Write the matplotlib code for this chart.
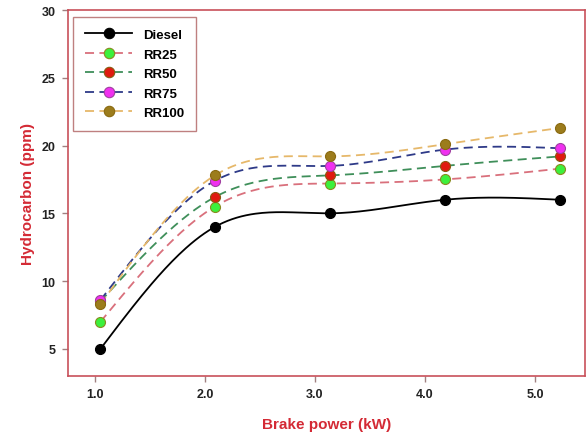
import numpy as np
import matplotlib
matplotlib.use("Agg")
import matplotlib.pyplot as plt
from matplotlib.lines import Line2D

brake_power = [1.05, 2.09, 3.14, 4.18, 5.23]
diesel = [5.0, 14.0, 15.0, 16.0, 16.0]
rr25 = [7.0, 15.5, 17.2, 17.5, 18.3]
rr50 = [8.5, 16.2, 17.8, 18.5, 19.2]
rr75 = [8.6, 17.4, 18.5, 19.7, 19.8]
rr100 = [8.3, 17.8, 19.2, 20.1, 21.3]
series_names = ["Diesel", "RR25", "RR50", "RR75", "RR100"]
x_ticks = [1.0, 2.0, 3.0, 4.0, 5.0]
y_ticks = [5, 10, 15, 20, 25, 30]


def natural_spline(x, y, n=200):
    x = np.asarray(x, float)
    y = np.asarray(y, float)
    k = len(x)
    h = np.diff(x)
    A = np.zeros((k, k))
    b = np.zeros(k)
    A[0, 0] = 1
    A[-1, -1] = 1
    for i in range(1, k - 1):
        A[i, i - 1] = h[i - 1]
        A[i, i] = 2 * (h[i - 1] + h[i])
        A[i, i + 1] = h[i]
        b[i] = 3 * ((y[i + 1] - y[i]) / h[i] - (y[i] - y[i - 1]) / h[i - 1])
    c = np.linalg.solve(A, b)
    xs = np.linspace(x[0], x[-1], n)
    ys = np.empty_like(xs)
    for j, xv in enumerate(xs):
        i = min(np.searchsorted(x, xv, side="right") - 1, k - 2)
        bi = (y[i + 1] - y[i]) / h[i] - h[i] * (2 * c[i] + c[i + 1]) / 3
        di = (c[i + 1] - c[i]) / (3 * h[i])
        dx = xv - x[i]
        ys[j] = y[i] + bi * dx + c[i] * dx ** 2 + di * dx ** 3
    return xs, ys


fig = plt.figure(figsize=(5.87, 4.39), dpi=100)
ax = fig.add_axes([68 / 587, 1 - 377 / 439, (585 - 68) / 587, (377 - 11) / 439])

frame_col = "#c8505a"
label_col = "#d42a35"

styles = [
    dict(data=diesel, line="black", ls="-", face="black", edge="black"),
    dict(data=rr25, line="#d9707c", ls=(0, (5, 3)), face="#3cf03c", edge="#8a8a20"),
    dict(data=rr50, line="#3f8f5a", ls=(0, (5, 3)), face="#e01a10", edge="#8a5a10"),
    dict(data=rr75, line="#2e3a88", ls=(0, (5, 3)), face="#f030f0", edge="#a040a0"),
    dict(data=rr100, line="#e6b86a", ls=(0, (5, 3)), face="#9c7c1c", edge="#8a6a10"),
]

handles = []
for name, st in zip(series_names, styles):
    xs, ys = natural_spline(brake_power, st["data"])
    ax.plot(xs, ys, color=st["line"], ls=st["ls"], lw=1.3, zorder=2)
    ax.plot(brake_power, st["data"], ls="none", marker="o", ms=7.2,
            mfc=st["face"], mec=st["edge"], mew=0.8, zorder=3)
    handles.append(Line2D([], [], color=st["line"], ls=st["ls"], lw=1.3,
                          marker="o", ms=7.5, mfc=st["face"], mec=st["edge"], mew=0.8))

ax.set_xlim(0.755, 5.455)
ax.set_ylim(3, 30)
ax.set_xticks(x_ticks)
ax.set_xticklabels([f"{v:.1f}" for v in x_ticks])
ax.set_yticks(y_ticks)
ax.set_yticklabels([str(v) for v in y_ticks])

for s in ax.spines.values():
    s.set_color(frame_col)
    s.set_linewidth(1.2)

ax.tick_params(direction="out", length=4, width=1, color="#a08080",
               labelsize=9, pad=5)
for lab in ax.get_xticklabels() + ax.get_yticklabels():
    lab.set_fontfamily("Liberation Sans")
    lab.set_fontweight("bold")
    lab.set_color("#222222")

ax.set_xlabel("Brake power (kW)", fontsize=11, fontweight="bold",
              color=label_col, family="Liberation Sans", labelpad=12)
ax.set_ylabel("Hydrocarbon (ppm)", fontsize=11, fontweight="bold",
              color=label_col, family="Liberation Sans", labelpad=5)

leg = ax.legend(handles, series_names, loc="upper left",
                bbox_to_anchor=(5 / 517, 1 - 7 / 366), borderaxespad=0,
                handlelength=3.6,
                prop=dict(family="Liberation Sans", weight="bold", size=9.5),
                frameon=True, fancybox=False, borderpad=0.9,
                labelspacing=0.55, handletextpad=0.8)
leg.get_frame().set_edgecolor("#b06060")
leg.get_frame().set_linewidth(1.0)

fig.savefig("out.png", dpi=100)
